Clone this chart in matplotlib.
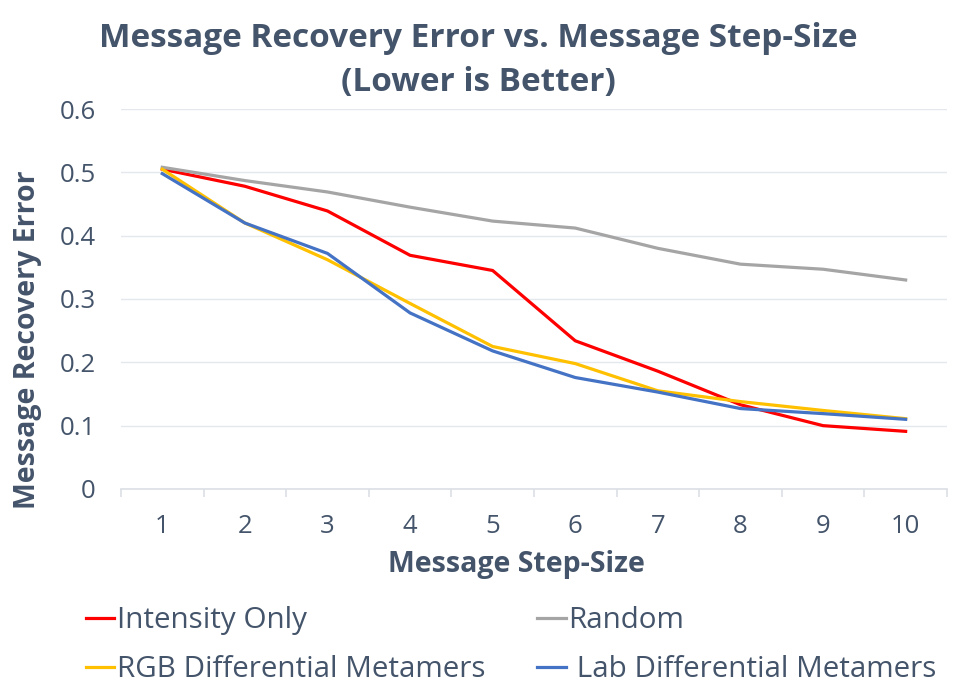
import matplotlib
matplotlib.use("Agg")
import matplotlib.pyplot as plt
import numpy as np

# data
steps = [1, 2, 3, 4, 5, 6, 7, 8, 9, 10]
intensity_only = [0.505, 0.478, 0.439, 0.369, 0.345, 0.234, 0.186, 0.133, 0.100, 0.091]
random_err = [0.508, 0.487, 0.469, 0.445, 0.423, 0.412, 0.380, 0.355, 0.347, 0.330]
rgb_metamers = [0.505, 0.420, 0.362, 0.293, 0.225, 0.198, 0.155, 0.138, 0.124, 0.111]
lab_metamers = [0.498, 0.420, 0.372, 0.278, 0.218, 0.176, 0.153, 0.127, 0.119, 0.110]
yticks = [0, 0.1, 0.2, 0.3, 0.4, 0.5, 0.6]
ytick_labels = ["0", "0.1", "0.2", "0.3", "0.4", "0.5", "0.6"]

txt = "#44546A"
plt.rcParams['font.family'] = ['Open Sans', 'DejaVu Sans']

fig = plt.figure(figsize=(9.57, 6.93), dpi=100)
ax = fig.add_axes([0.1264, 0.2944, 0.8631, 0.5483])

lw = 2.3
l1, = ax.plot(steps, intensity_only, color="#FF0000", lw=lw, label="Intensity Only")
l2, = ax.plot(steps, random_err, color="#A5A5A5", lw=lw, label="Random")
l3, = ax.plot(steps, rgb_metamers, color="#FFC000", lw=lw, label="RGB Differential Metamers")
l4, = ax.plot(steps, lab_metamers, color="#4472C4", lw=lw, label=" Lab Differential Metamers")

ax.set_xlim(0.5, 10.5)
ax.set_ylim(0, 0.6)
ax.set_yticks(yticks)
ax.set_yticklabels(ytick_labels)
ax.set_xticks(steps)
ax.set_xticks(np.arange(0.5, 11, 1), minor=True)
ax.grid(axis="y", color="#E4E7EC", lw=1)
ax.set_axisbelow(True)
for s in ["top", "right", "left"]:
    ax.spines[s].set_visible(False)
ax.spines["bottom"].set_color("#DCDFE4")
ax.spines["bottom"].set_linewidth(1.2)
ax.tick_params(axis="y", length=0, pad=18, labelsize=18.5, labelcolor=txt)
ax.tick_params(axis="x", which="major", length=0, pad=18, labelsize=18.5, labelcolor=txt)
ax.tick_params(axis="x", which="minor", length=6, color="#DCDFE4", width=1.2)

ax.set_ylabel("Message Recovery Error", fontsize=20.5, fontweight="bold", color=txt)
ax.yaxis.set_label_coords(-0.095, 0.392)
ax.set_xlabel("Message Step-Size", fontsize=20.5, fontweight="bold", color=txt)
ax.xaxis.label.set_va("center")
ax.xaxis.set_label_coords(0.479, -0.2)

fig.text(0.4995, 0.945, "Message Recovery Error vs. Message Step-Size", ha="center", va="center",
         fontsize=24, fontweight="bold", color=txt)
fig.text(0.4995, 0.881, "(Lower is Better)", ha="center", va="center",
         fontsize=24, fontweight="bold", color=txt)

leg = fig.legend([l1, l3, l2, l4], [l1.get_label(), l3.get_label(), l2.get_label(), l4.get_label()],
                 ncol=2, loc="center left", bbox_to_anchor=(0.09, 0.069), frameon=False,
                 fontsize=21.3, handlelength=0.95, handletextpad=0.1, columnspacing=1.75,
                 labelspacing=0.68, borderpad=0, borderaxespad=0)
for t in leg.get_texts():
    t.set_color(txt)

fig.savefig("out.png", dpi=100)
